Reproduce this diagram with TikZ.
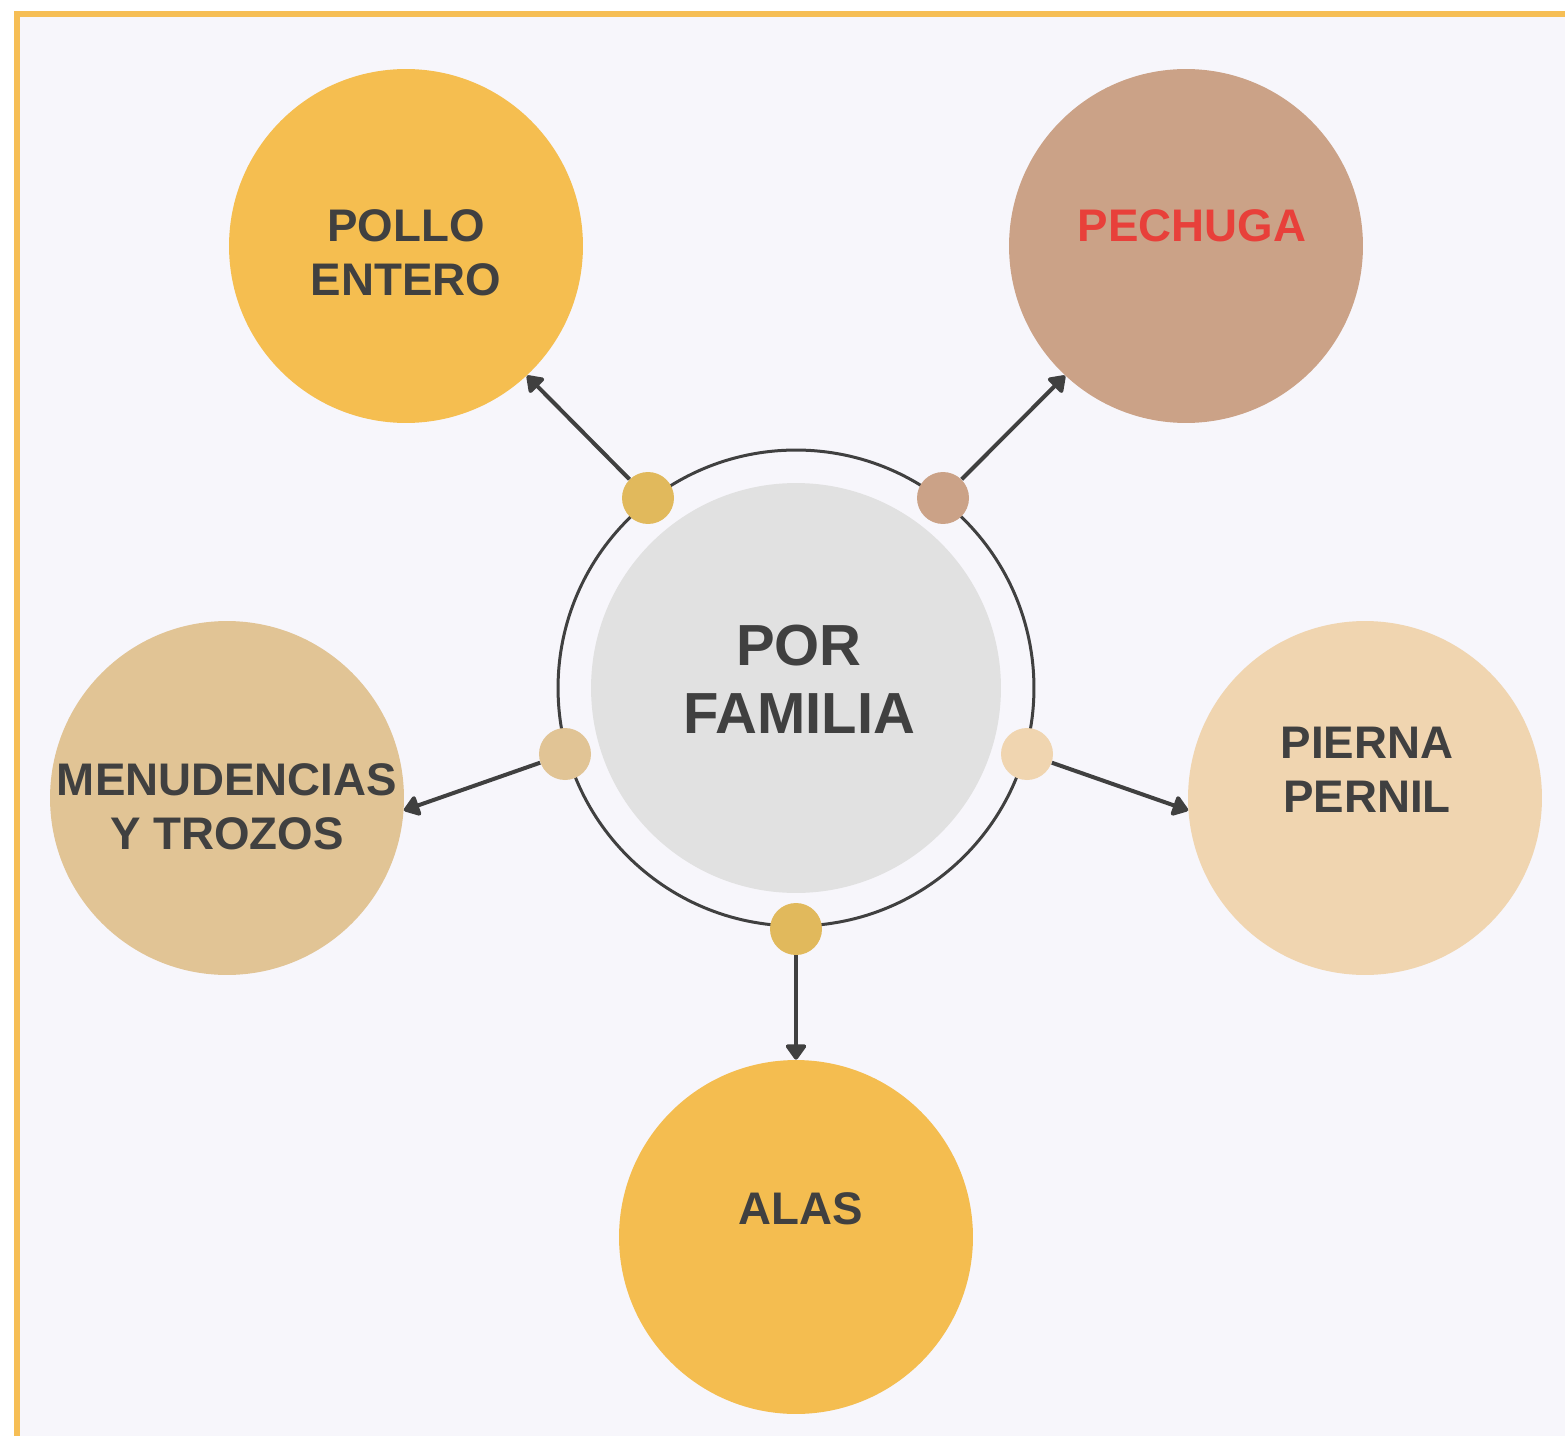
\documentclass[tikz,border=0pt]{standalone}
\usepackage{fontspec}
\setmainfont{Liberation Sans}
\usetikzlibrary{arrows.meta}
\definecolor{framecolor}{HTML}{F6BE55}
\definecolor{bgcolor}{HTML}{F7F6FB}
\definecolor{inkcolor}{HTML}{404040}
\definecolor{hubcolor}{HTML}{E1E1E1}
\definecolor{wholecolor}{HTML}{F5BE50}
\definecolor{breastcolor}{HTML}{CBA287}
\definecolor{giblcolor}{HTML}{E1C495}
\definecolor{legcolor}{HTML}{F0D5B0}
\definecolor{wingcolor}{HTML}{F4BD50}
\definecolor{knotcolor}{HTML}{E1B95C}
\definecolor{redtext}{HTML}{E8403A}

\begin{document}
\begin{tikzpicture}[
    x=0.02cm, y=-0.02cm,
    >={Triangle[length=0.34cm, width=0.46cm, round]},
    part/.style={circle, minimum size=7.08cm, inner sep=0pt},
    knot/.style={circle, minimum size=1.04cm, inner sep=0pt},
    link/.style={->, line width=0.08cm, draw=inkcolor},
    parttext/.style={font=\bfseries\fontsize{26}{30.7}\selectfont, text=inkcolor, align=center},
]
    % Frame and background
    \useasboundingbox (0,0) rectangle (1565,1436);
    \clip (0,0) rectangle (1565,1436);
    \fill[white] (0,0) rectangle (1565,1436);
    \draw[line width=0.12cm, draw=framecolor, fill=bgcolor] (17,14) rectangle (1600,1480);

    % Hub
    \node[circle, minimum size=9.52cm, inner sep=0pt, draw=inkcolor, line width=0.06cm] (ring) at (796,688) {};
    \node[circle, minimum size=8.2cm, inner sep=0pt, fill=hubcolor] (hub) at (796,688) {};
    \node[font=\bfseries\fontsize{33}{38.6}\selectfont, text=inkcolor, align=center] (hubtxt) at (799,679) {POR\\FAMILIA};

    % Parts
    \node[part, fill=wholecolor] (whole) at (406,246) {};
    \node[part, fill=breastcolor] (breast) at (1186,246) {};
    \node[part, fill=giblcolor] (gibl) at (227,798) {};
    \node[part, fill=legcolor] (leg) at (1365,798) {};
    \node[part, fill=wingcolor] (wing) at (796,1237) {};

    % Knots on the ring
    \node[knot, fill=knotcolor] (kwhole) at (648,498) {};
    \node[knot, fill=breastcolor] (kbreast) at (943,498) {};
    \node[knot, fill=giblcolor] (kgibl) at (565,754) {};
    \node[knot, fill=legcolor] (kleg) at (1027,754) {};
    \node[knot, fill=knotcolor] (kwing) at (796,929) {};

    % Arrows
    \draw[link] (kwhole) -- (whole.-47);
    \draw[link] (kbreast) -- (breast.-133);
    \draw[link] (kgibl) -- (gibl.-4);
    \draw[link] (kleg) -- (leg.184);
    \draw[link] (kwing) -- (wing);

    % Labels
    \node[parttext] (wholetxt) at (406,253) {POLLO\\ENTERO};
    \node[parttext, text=redtext] (breasttxt) at (1192,226) {PECHUGA};
    \node[parttext] (gibltxt) at (227,807) {MENUDENCIAS\\Y TROZOS};
    \node[parttext] (legtxt) at (1367,770) {PIERNA\\PERNIL};
    \node[parttext] (wingtxt) at (801,1209) {ALAS};
\end{tikzpicture}
\end{document}
